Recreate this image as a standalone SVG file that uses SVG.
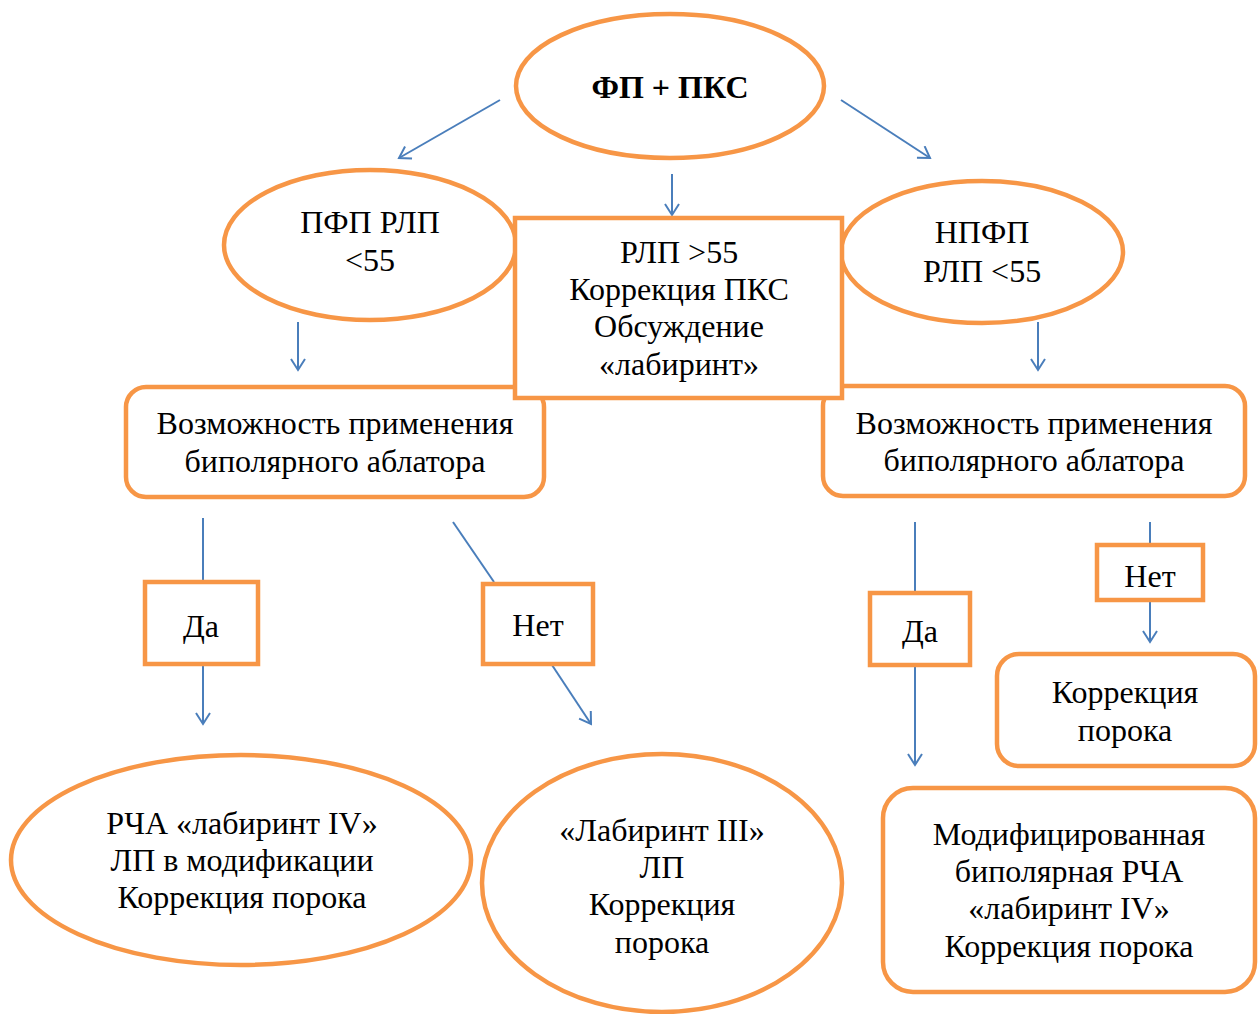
<svg xmlns="http://www.w3.org/2000/svg" width="1258" height="1014" viewBox="0 0 1258 1014">
<defs>
<marker id="arr" markerWidth="16" markerHeight="16" viewBox="-12 -8 14 16" refX="0" refY="0" orient="auto" markerUnits="userSpaceOnUse">
<path d="M-11,-7 L0,0 L-11,7" fill="none" stroke="#4a7ebb" stroke-width="2"/>
</marker>
<style>
.sh{fill:#fff;stroke:#f79646;stroke-width:4.5}
.t{font-family:"Liberation Serif","Times New Roman",serif;font-size:32px;fill:#000;text-anchor:middle}
.b{font-weight:bold;font-size:32px}
.c{stroke:#4a7ebb;stroke-width:2;fill:none}
.a{marker-end:url(#arr)}
</style>
</defs>
<rect width="1258" height="1014" fill="#fff"/>
<g id="connectors">
<line class="c a" x1="500" y1="100" x2="399" y2="158"/>
<line class="c a" x1="841" y1="100" x2="930" y2="158"/>
<line class="c a" x1="672" y1="174" x2="672" y2="215"/>
<line class="c a" x1="298" y1="322" x2="298" y2="370"/>
<line class="c a" x1="1038" y1="322" x2="1038" y2="370"/>
<line class="c" x1="203" y1="518" x2="203" y2="582"/>
<line class="c a" x1="203" y1="664" x2="203" y2="724"/>
<line class="c" x1="453" y1="522" x2="494" y2="582"/>
<line class="c a" x1="552" y1="665" x2="591" y2="724"/>
<line class="c" x1="915" y1="522" x2="915" y2="593"/>
<line class="c a" x1="915" y1="665" x2="915" y2="765"/>
<line class="c" x1="1150" y1="522" x2="1150" y2="545"/>
<line class="c a" x1="1150" y1="600" x2="1150" y2="642"/>
</g>
<g id="n-top"><ellipse class="sh" cx="670" cy="86" rx="154" ry="72"/><text class="t b" x="670" y="98">ФП + ПКС</text></g>
<g id="n-pfp"><ellipse class="sh" cx="370" cy="245" rx="146" ry="75"/><text class="t" x="370" y="233">ПФП РЛП</text><text class="t" x="370" y="271">&lt;55</text></g>
<g id="n-npfp"><ellipse class="sh" cx="982" cy="252" rx="141" ry="71"/><text class="t" x="982" y="243">НПФП</text><text class="t" x="982" y="282">РЛП &lt;55</text></g>
<g id="n-left-q"><rect class="sh" x="126" y="387" width="418" height="110" rx="20"/><text class="t" x="335" y="434">Возможность применения</text><text class="t" x="335" y="472">биполярного аблатора</text></g>
<g id="n-right-q"><rect class="sh" x="823" y="386" width="422" height="110" rx="20"/><text class="t" x="1034" y="434">Возможность применения</text><text class="t" x="1034" y="471">биполярного аблатора</text></g>
<g id="n-center"><rect class="sh" x="515" y="218" width="327" height="180"/><text class="t" x="679" y="263">РЛП &gt;55</text><text class="t" x="679" y="300">Коррекция ПКС</text><text class="t" x="679" y="337">Обсуждение</text><text class="t" x="679" y="375">«лабиринт»</text></g>
<g id="n-da-left"><rect class="sh" x="145" y="582" width="113" height="82"/><text class="t" x="201" y="637">Да</text></g>
<g id="n-net-left"><rect class="sh" x="483" y="584" width="110" height="80"/><text class="t" x="538" y="636">Нет</text></g>
<g id="n-da-right"><rect class="sh" x="870" y="593" width="100" height="72"/><text class="t" x="920" y="642">Да</text></g>
<g id="n-net-right"><rect class="sh" x="1097" y="545" width="106" height="55"/><text class="t" x="1150" y="587">Нет</text></g>
<g id="n-korr"><rect class="sh" x="997" y="654" width="258" height="112" rx="22"/><text class="t" x="1125" y="703">Коррекция</text><text class="t" x="1125" y="741">порока</text></g>
<g id="n-rcha"><ellipse class="sh" cx="241" cy="860" rx="230" ry="105"/><text class="t" x="242" y="834">РЧА «лабиринт IV»</text><text class="t" x="242" y="871">ЛП в модификации</text><text class="t" x="242" y="908">Коррекция порока</text></g>
<g id="n-lab3"><ellipse class="sh" cx="662" cy="883" rx="180" ry="129"/><text class="t" x="662" y="841">«Лабиринт III»</text><text class="t" x="662" y="878">ЛП</text><text class="t" x="662" y="915">Коррекция</text><text class="t" x="662" y="953">порока</text></g>
<g id="n-mod"><rect class="sh" x="883" y="788" width="372" height="204" rx="30"/><text class="t" x="1069" y="845">Модифицированная</text><text class="t" x="1069" y="882">биполярная РЧА</text><text class="t" x="1069" y="919">«лабиринт IV»</text><text class="t" x="1069" y="957">Коррекция порока</text></g>
</svg>
